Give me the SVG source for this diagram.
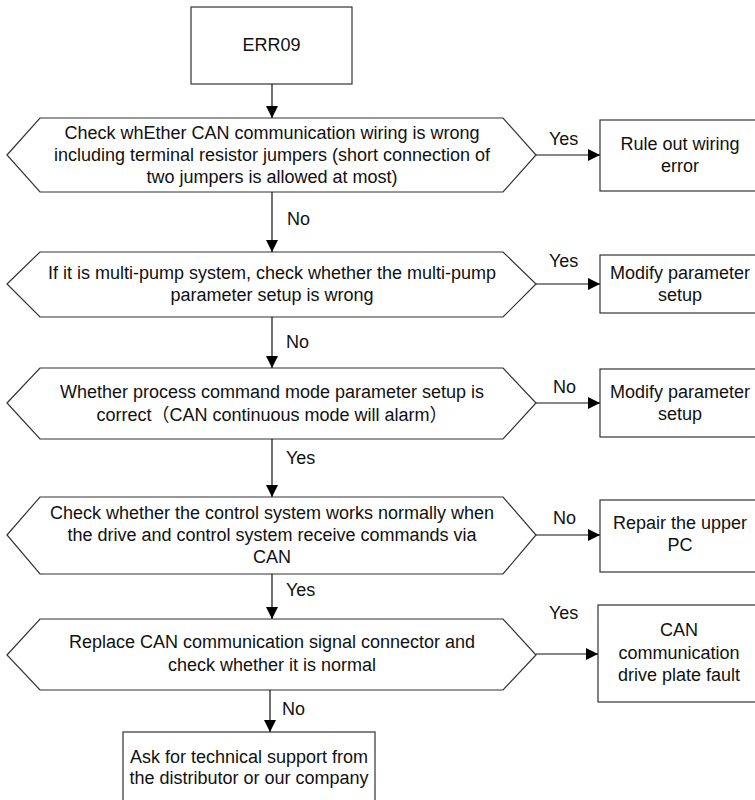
<svg xmlns="http://www.w3.org/2000/svg" width="755" height="800" viewBox="0 0 755 800">
<style>
.box{fill:#fff;stroke:#333;stroke-width:1.2}
.t{font-family:"Liberation Sans","Noto Sans CJK SC",Arial,sans-serif;font-size:18px;fill:#111;text-anchor:middle}
.l{font-family:"Liberation Sans",Arial,sans-serif;font-size:18px;fill:#111}
.c{fill:none;stroke:#111;stroke-width:1.2}
</style>
<defs>
<marker id="arr" markerUnits="userSpaceOnUse" markerWidth="12" markerHeight="12" refX="12" refY="6" orient="auto">
<path d="M0,0 L12,6 L0,12 z" fill="#000"/>
</marker>
</defs>
<rect width="755" height="800" fill="#fff"/>
<g id="start">
<rect class="box" x="191" y="7" width="161" height="77"/>
<text class="t" x="271.5" y="51">ERR09</text>
</g>
<g id="d1">
<polygon class="box" points="7,155 40,118 503,118 536,155 503,192 40,192"/>
<text class="t" x="272" y="139">Check whEther CAN communication wiring is wrong</text>
<text class="t" x="272" y="161">including terminal resistor jumpers (short connection of</text>
<text class="t" x="272" y="183">two jumpers is allowed at most)</text>
</g>
<g id="r1">
<rect class="box" x="600" y="120" width="160" height="71"/>
<text class="t" x="680" y="150">Rule out wiring</text>
<text class="t" x="680" y="172">error</text>
</g>
<g id="d2">
<polygon class="box" points="7,284 40,252 503,252 536,284 503,317 40,317"/>
<text class="t" x="272" y="279">If it is multi-pump system, check whether the multi-pump</text>
<text class="t" x="272" y="301">parameter setup is wrong</text>
</g>
<g id="r2">
<rect class="box" x="600" y="255" width="160" height="58"/>
<text class="t" x="680" y="279">Modify parameter</text>
<text class="t" x="680" y="301">setup</text>
</g>
<g id="d3">
<polygon class="box" points="7,403 40,368 503,368 536,403 503,439 40,439"/>
<text class="t" x="272" y="398">Whether process command mode parameter setup is</text>
<text class="t" x="272" y="421">correct（CAN continuous mode will alarm）</text>
</g>
<g id="r3">
<rect class="box" x="600" y="369" width="160" height="68"/>
<text class="t" x="680" y="398">Modify parameter</text>
<text class="t" x="680" y="420">setup</text>
</g>
<g id="d4">
<polygon class="box" points="7,535 40,497 503,497 536,535 503,574 40,574"/>
<text class="t" x="272" y="519">Check whether the control system works normally when</text>
<text class="t" x="272" y="541">the drive and control system receive commands via</text>
<text class="t" x="272" y="563">CAN</text>
</g>
<g id="r4">
<rect class="box" x="600" y="500" width="160" height="72"/>
<text class="t" x="680" y="529">Repair the upper</text>
<text class="t" x="680" y="551">PC</text>
</g>
<g id="d5">
<polygon class="box" points="7,655 40,619 503,619 536,655 503,690 40,690"/>
<text class="t" x="272" y="648">Replace CAN communication signal connector and</text>
<text class="t" x="272" y="671">check whether it is normal</text>
</g>
<g id="r5">
<rect class="box" x="598" y="605" width="162" height="97"/>
<text class="t" x="679" y="636">CAN</text>
<text class="t" x="679" y="659">communication</text>
<text class="t" x="679" y="681">drive plate fault</text>
</g>
<g id="end">
<rect class="box" x="123" y="732" width="252" height="80"/>
<text class="t" x="249" y="763">Ask for technical support from</text>
<text class="t" x="249" y="784">the distributor or our company</text>
</g>
<g id="connectors">
<line class="c" x1="272" y1="84" x2="272" y2="118" marker-end="url(#arr)"/>
<line class="c" x1="536" y1="155" x2="600" y2="155" marker-end="url(#arr)"/>
<line class="c" x1="272" y1="192" x2="272" y2="252" marker-end="url(#arr)"/>
<line class="c" x1="536" y1="284" x2="600" y2="284" marker-end="url(#arr)"/>
<line class="c" x1="272" y1="317" x2="272" y2="368" marker-end="url(#arr)"/>
<line class="c" x1="536" y1="403" x2="600" y2="403" marker-end="url(#arr)"/>
<line class="c" x1="272" y1="439" x2="272" y2="497" marker-end="url(#arr)"/>
<line class="c" x1="536" y1="535" x2="600" y2="535" marker-end="url(#arr)"/>
<line class="c" x1="272" y1="574" x2="272" y2="619" marker-end="url(#arr)"/>
<line class="c" x1="536" y1="654" x2="598" y2="654" marker-end="url(#arr)"/>
<line class="c" x1="270" y1="690" x2="270" y2="732" marker-end="url(#arr)"/>
<text class="l" x="549" y="145">Yes</text>
<text class="l" x="287" y="225">No</text>
<text class="l" x="549" y="267">Yes</text>
<text class="l" x="286" y="348">No</text>
<text class="l" x="553" y="393">No</text>
<text class="l" x="286" y="464">Yes</text>
<text class="l" x="553" y="524">No</text>
<text class="l" x="286" y="596">Yes</text>
<text class="l" x="549" y="619">Yes</text>
<text class="l" x="282" y="715">No</text>
</g>
</svg>
